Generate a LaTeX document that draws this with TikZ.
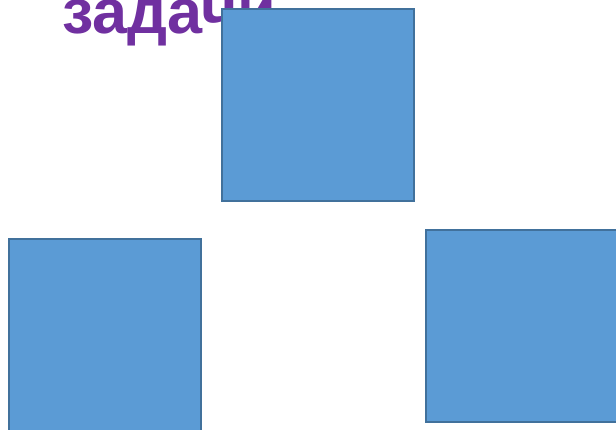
\documentclass[tikz,border=0pt]{standalone}
\usepackage{fontspec}
\setmainfont{Liberation Sans}
\definecolor{boxfill}{HTML}{5B9BD5}
\definecolor{boxline}{HTML}{41719C}
\definecolor{titlepurple}{HTML}{7030A0}
\tikzset{
  bluebox/.style={draw=boxline, fill=boxfill, line width=1.8pt, minimum width=192pt, minimum height=192pt, inner sep=0pt, outer sep=0pt},
  titletext/.style={text=titlepurple, font=\bfseries\fontsize{63}{70}\selectfont, inner sep=0pt, anchor=base west}
}
\begin{document}
\begin{tikzpicture}[x=1pt,y=-1pt]
\useasboundingbox (0,0) rectangle (616,429);
\clip (0,0) rectangle (616,429);
\node[titletext] (title) at (62,33) {задачи};
\node[bluebox] (top) at (318,105) {};
\node[bluebox] (left) at (105,335) {};
\node[bluebox] (right) at (522,326) {};
\end{tikzpicture}
\end{document}
